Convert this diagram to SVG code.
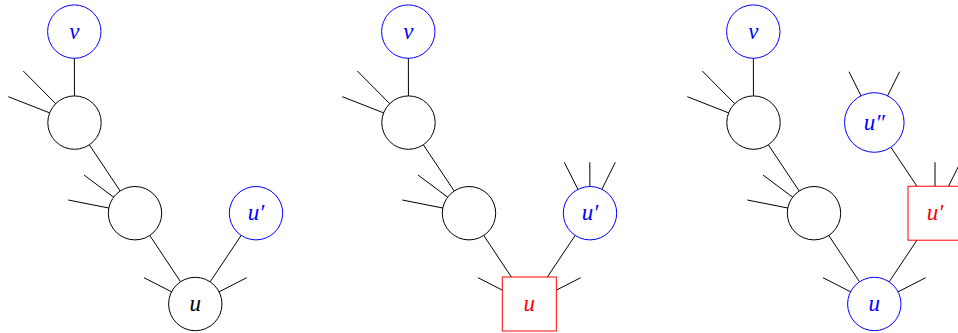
<svg xmlns="http://www.w3.org/2000/svg" width="958" height="333" viewBox="0 0 958 333">
<style>
.e{stroke:#000;stroke-width:1;fill:none}
.n{fill:#fff;stroke:#000;stroke-width:1}
.b{fill:#fff;stroke:#0000ff;stroke-width:1}
.r{fill:#fff;stroke:#ff0000;stroke-width:1}
.tb{fill:#0000ff}
.tr{fill:#ff0000}
.tk{fill:#000}
</style>
<rect width="958" height="333" fill="#fff"/>
<g id="connectors">
<line class="e" x1="74.3" y1="31.6" x2="74.5" y2="122.6"/>
<line class="e" x1="74.5" y1="122.6" x2="135" y2="213.2"/>
<line class="e" x1="135" y1="213.2" x2="195.3" y2="304"/>
<line class="e" x1="256" y1="213.2" x2="195.3" y2="304"/>
<line class="e" x1="23.3" y1="71" x2="74.5" y2="122.6"/>
<line class="e" x1="8.3" y1="96.7" x2="74.5" y2="122.6"/>
<line class="e" x1="84" y1="175" x2="135" y2="213.2"/>
<line class="e" x1="68.3" y1="200" x2="135" y2="213.2"/>
<line class="e" x1="144" y1="277.7" x2="195.3" y2="304"/>
<line class="e" x1="246.7" y1="277.7" x2="195.3" y2="304"/>
<line class="e" x1="408.3" y1="31.6" x2="408.5" y2="122.6"/>
<line class="e" x1="408.5" y1="122.6" x2="469" y2="213.2"/>
<line class="e" x1="469" y1="213.2" x2="529.3" y2="304"/>
<line class="e" x1="590" y1="213.2" x2="529.3" y2="304"/>
<line class="e" x1="357.3" y1="71" x2="408.5" y2="122.6"/>
<line class="e" x1="342.3" y1="96.7" x2="408.5" y2="122.6"/>
<line class="e" x1="418" y1="175" x2="469" y2="213.2"/>
<line class="e" x1="402.3" y1="200" x2="469" y2="213.2"/>
<line class="e" x1="478" y1="277.7" x2="529.3" y2="304"/>
<line class="e" x1="580.7" y1="277.7" x2="529.3" y2="304"/>
<line class="e" x1="564.3" y1="162.3" x2="590" y2="213.2"/>
<line class="e" x1="589.8" y1="162.3" x2="590" y2="213.2"/>
<line class="e" x1="615.3" y1="162.3" x2="590" y2="213.2"/>
<line class="e" x1="753.3" y1="31.6" x2="753.5" y2="122.6"/>
<line class="e" x1="753.5" y1="122.6" x2="814" y2="213.2"/>
<line class="e" x1="814" y1="213.2" x2="874.3" y2="304"/>
<line class="e" x1="935" y1="213.2" x2="874.3" y2="304"/>
<line class="e" x1="874.3" y1="122.5" x2="935" y2="213.2"/>
<line class="e" x1="702.3" y1="71" x2="753.5" y2="122.6"/>
<line class="e" x1="687.3" y1="96.7" x2="753.5" y2="122.6"/>
<line class="e" x1="763" y1="175" x2="814" y2="213.2"/>
<line class="e" x1="747.3" y1="200" x2="814" y2="213.2"/>
<line class="e" x1="823" y1="277.7" x2="874.3" y2="304"/>
<line class="e" x1="925.7" y1="277.7" x2="874.3" y2="304"/>
<line class="e" x1="849" y1="71.7" x2="874.3" y2="122.5"/>
<line class="e" x1="899.6" y1="71.7" x2="874.3" y2="122.5"/>
<line class="e" x1="935" y1="162.3" x2="935" y2="213.2"/>
<line class="e" x1="960.5" y1="162.3" x2="935" y2="213.2"/>
</g>
<g font-family="Liberation Serif, DejaVu Serif, serif" font-style="italic" font-size="23" text-anchor="middle">
<g id="p1-v"><circle class="b" cx="74.3" cy="31.6" r="26.7"/><text class="tb" x="74.3" y="38.6">v</text></g>
<g id="p1-a"><circle class="n" cx="74.5" cy="122.6" r="26.7"/></g>
<g id="p1-b"><circle class="n" cx="135" cy="213.2" r="26.7"/></g>
<g id="p1-u"><circle class="n" cx="195.3" cy="304" r="26.7"/><text class="tk" x="195.3" y="311">u</text></g>
<g id="p1-u1"><circle class="b" cx="256" cy="213.2" r="26.7"/><text class="tb" x="256" y="220.2">u′</text></g>
<g id="p2-v"><circle class="b" cx="408.3" cy="31.6" r="26.7"/><text class="tb" x="408.3" y="38.6">v</text></g>
<g id="p2-a"><circle class="n" cx="408.5" cy="122.6" r="26.7"/></g>
<g id="p2-b"><circle class="n" cx="469" cy="213.2" r="26.7"/></g>
<g id="p2-u"><rect class="r" x="502.3" y="277" width="54" height="54"/><text class="tr" x="529.3" y="311">u</text></g>
<g id="p2-u1"><circle class="b" cx="590" cy="213.2" r="26.7"/><text class="tb" x="590" y="220.2">u′</text></g>
<g id="p3-v"><circle class="b" cx="753.3" cy="31.6" r="26.7"/><text class="tb" x="753.3" y="38.6">v</text></g>
<g id="p3-a"><circle class="n" cx="753.5" cy="122.6" r="26.7"/></g>
<g id="p3-b"><circle class="n" cx="814" cy="213.2" r="26.7"/></g>
<g id="p3-u"><circle class="b" cx="874.3" cy="304" r="26.7"/><text class="tb" x="874.3" y="311">u</text></g>
<g id="p3-u2"><circle class="b" cx="874.3" cy="122.5" r="29.8"/><text class="tb" x="874.3" y="129.5">u″</text></g>
<g id="p3-u1"><rect class="r" x="908" y="186.2" width="54" height="54"/><text class="tr" x="935" y="220.2">u′</text></g>
</g>
</svg>
